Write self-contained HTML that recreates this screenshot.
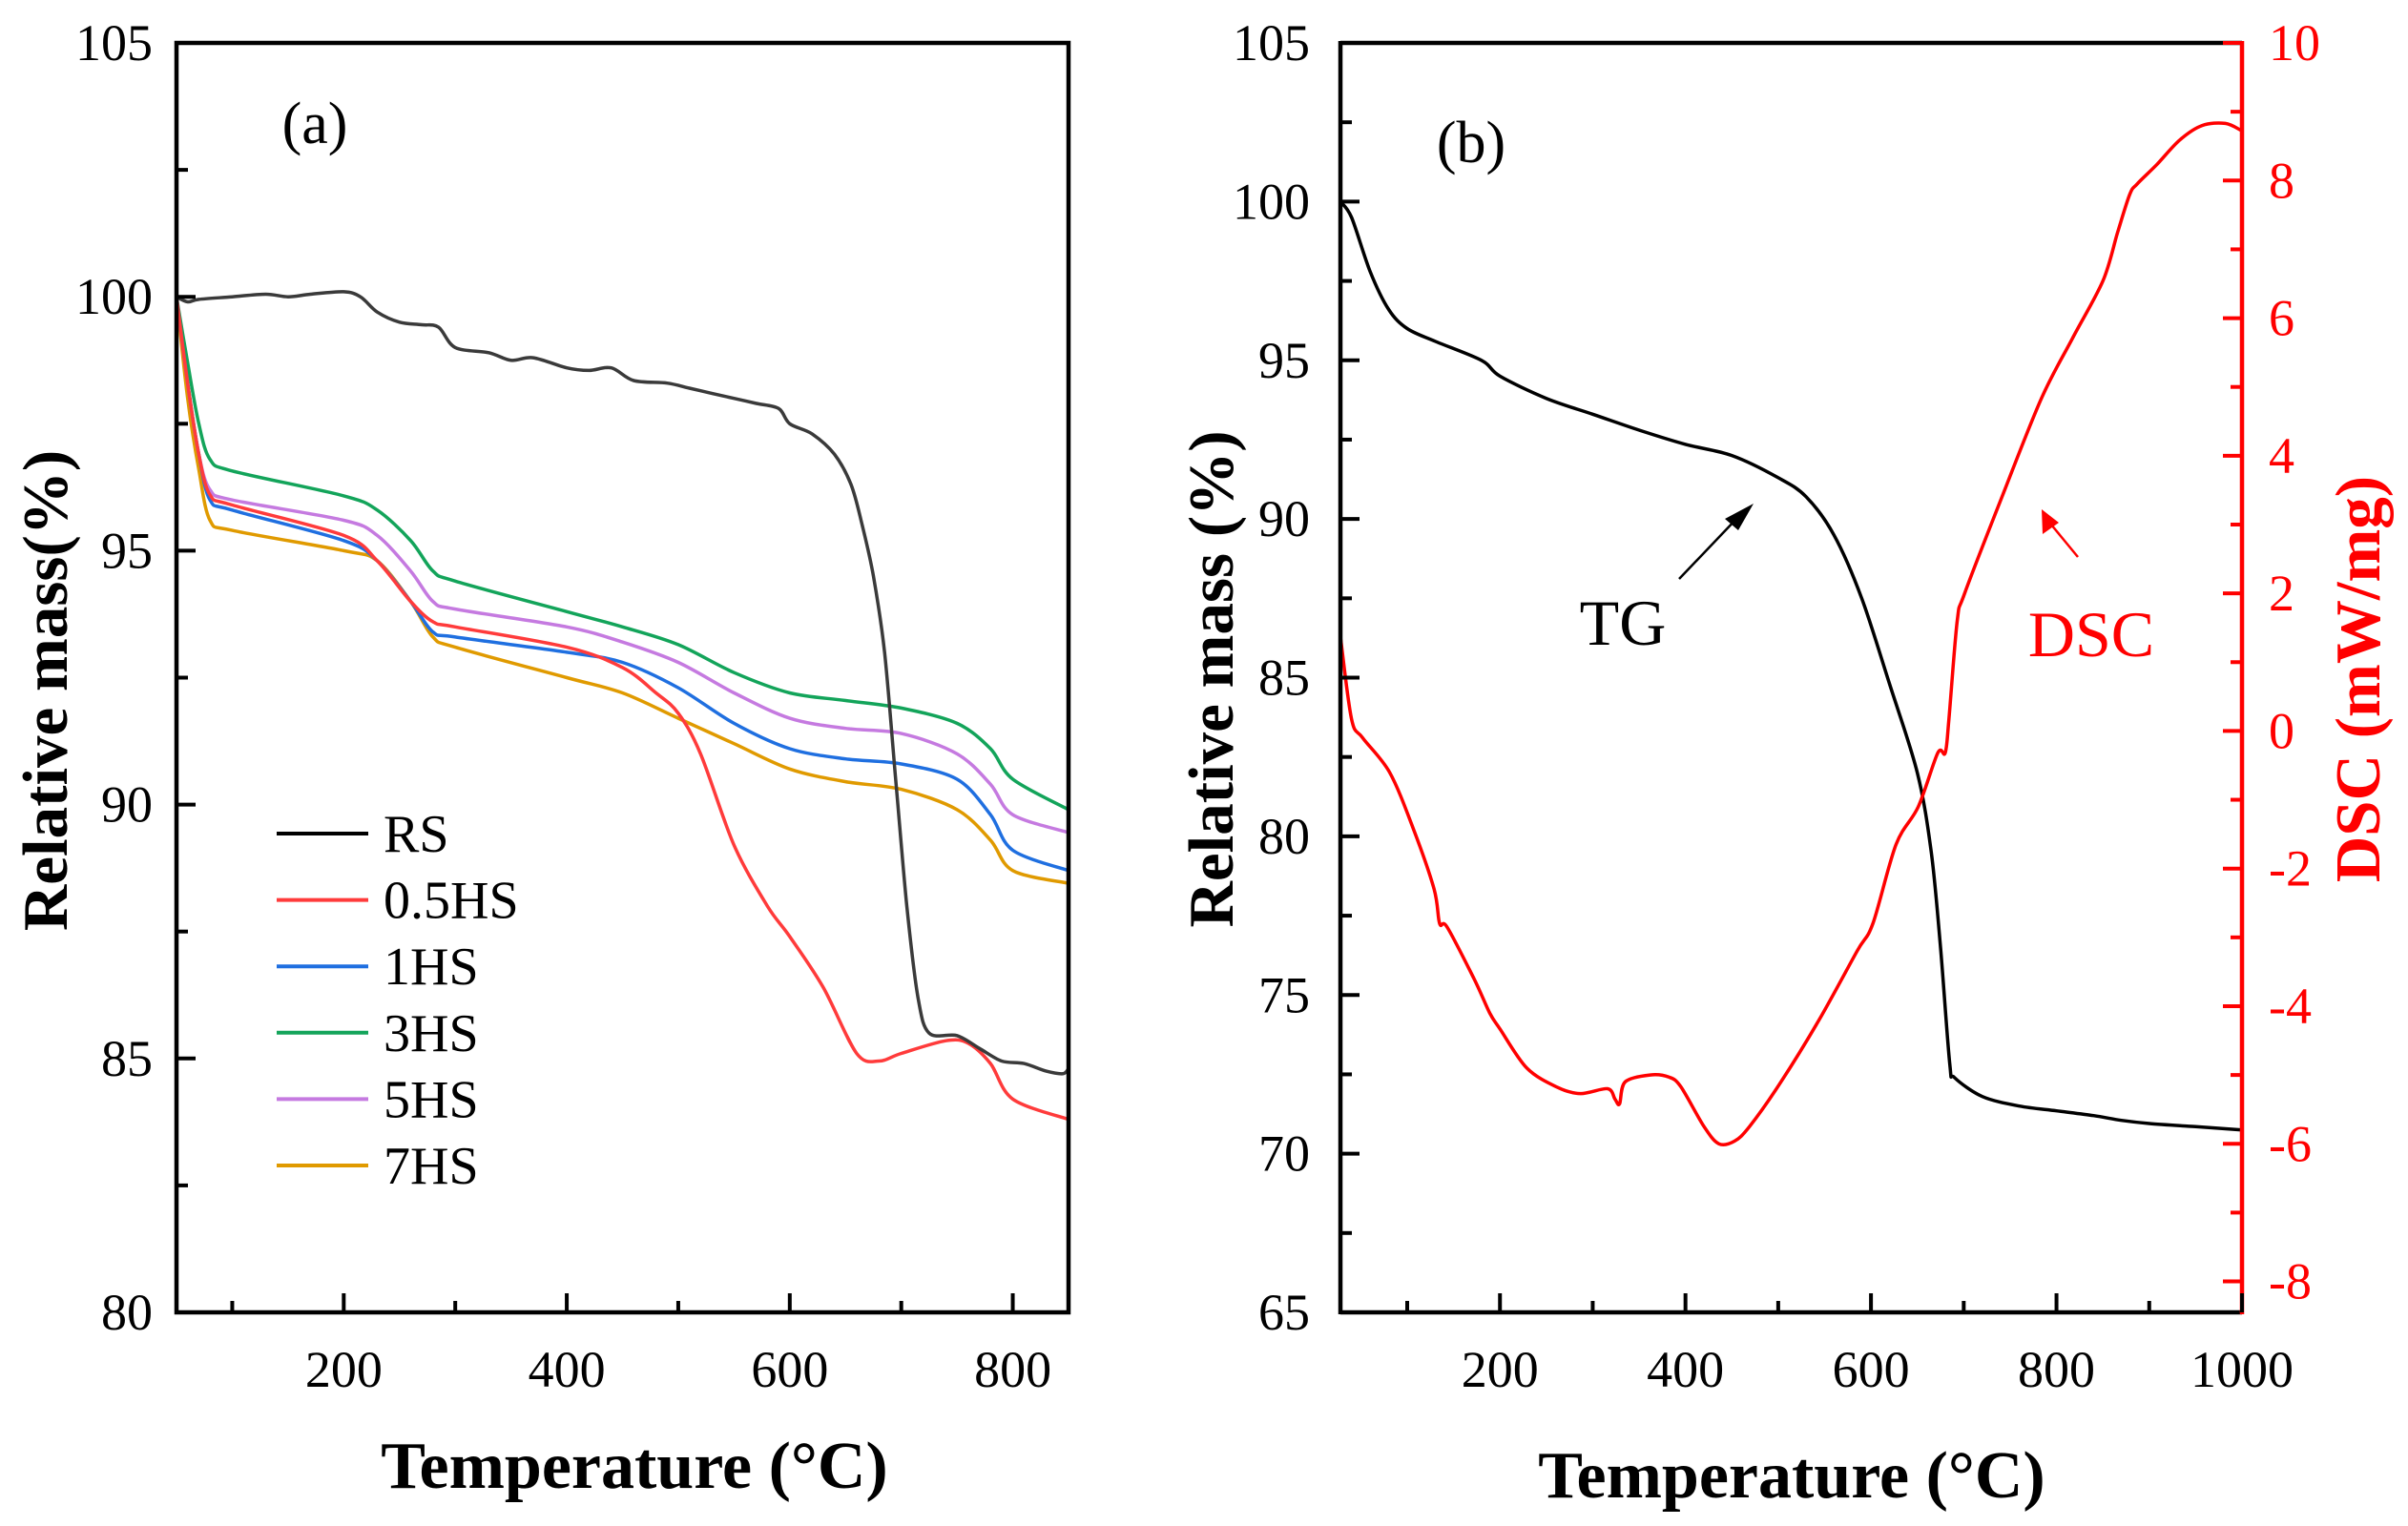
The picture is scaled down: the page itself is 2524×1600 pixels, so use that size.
<!DOCTYPE html>
<html><head><meta charset="utf-8"><style>
html,body{margin:0;padding:0;background:#fff;}
svg{display:block;}
svg text{font-family:"Liberation Serif","Times New Roman",serif;}
</style></head><body>
<svg id="chart" width="2524" height="1600" viewBox="0 0 2524 1600" xmlns="http://www.w3.org/2000/svg" font-family="Liberation Serif, serif"></svg>
<script>
// ---------- Panel (a) data ----------
const aTempsRS = [50,60,70,100,130,150,170,200,215,230,250,270,285,300,330,350,370,400,420,440,460,490,510,530,550,570,590,600,620,640,655,665,675,685,695,705,715,725,750,770,790,810,830,845,850];
const aRS = [100,99.9,99.95,100,100.05,100,100.05,100.1,100.0,99.7,99.5,99.45,99.4,99.0,98.9,98.75,98.8,98.6,98.55,98.6,98.35,98.3,98.2,98.1,98.0,97.9,97.8,97.5,97.3,96.9,96.3,95.5,94.5,93,90.5,88,86.2,85.5,85.45,85.2,84.95,84.9,84.75,84.7,84.8];
const aTemps = [50,60,70,80,100,200,230,260,280,300,400,450,500,550,600,650,700,750,780,800,850];
const a3HS = [100,98.7,97.5,96.8,96.57,96.08,95.8,95.2,94.6,94.4,93.8,93.5,93.15,92.6,92.2,92.05,91.9,91.6,91.1,90.5,89.9];
const a5HS = [100,98.3,96.9,96.2,96.0,95.6,95.3,94.6,94.0,93.85,93.5,93.2,92.8,92.2,91.7,91.5,91.4,91.0,90.4,89.8,89.45];
const a1HS = [100,98.3,96.9,96.0,95.8,95.2,94.8,94.0,93.4,93.3,93.0,92.8,92.3,91.6,91.1,90.9,90.8,90.5,89.8,89.1,88.7];
const a7HS = [100,98.0,96.6,95.6,95.4,95.0,94.8,94.0,93.3,93.1,92.5,92.2,91.7,91.2,90.7,90.45,90.3,89.9,89.3,88.7,88.45];
const aTempsHalf = [50,60,70,80,100,200,230,260,280,300,400,450,480,500,520,550,580,600,630,660,680,700,740,760,780,800,850];
const aHalfHS = [100,98.3,96.9,96.1,95.9,95.3,94.8,94.0,93.6,93.5,93.1,92.7,92.2,91.8,91.0,89.2,88.0,87.4,86.4,85.1,84.95,85.1,85.35,85.3,84.9,84.2,83.8];
const aXTicks = [200,400,600,800];
const aYTicks = [80,85,90,95,100,105];
const legendLabels = ["RS","0.5HS","1HS","3HS","5HS","7HS"];
// ---------- Panel (b) data ----------
const bTempsTG = [28,40,60,80,100,130,180,200,250,300,350,400,450,500,530,560,590,620,650,665,675,685,690,720,760,800,840,870,900,950,1000];
const bTG = [100,99.5,97.8,96.6,96.0,95.6,95.0,94.5,93.8,93.3,92.8,92.35,92.0,91.3,90.7,89.5,87.5,84.8,82.0,79.5,76.5,72.8,72.4,71.8,71.5,71.35,71.2,71.05,70.95,70.85,70.75];
const bTempsDSC = [28,40,52,81,106,129,135,143,172,189,200,229,262,287,316,324,329,335,362,382,395,420,436,453,469,502,544,585,602,627,651,672,680,684,693,701,742,784,817,850,866,879,887,908,933,957,982,999];
const bDSC = [1.37,0.17,-0.1,-0.6,-1.4,-2.3,-2.8,-2.85,-3.6,-4.1,-4.33,-4.9,-5.18,-5.27,-5.2,-5.35,-5.42,-5.1,-5.0,-5.03,-5.17,-5.75,-6.0,-5.96,-5.75,-5.12,-4.2,-3.2,-2.8,-1.65,-1.1,-0.32,-0.32,0.17,1.6,2.0,3.43,4.84,5.7,6.54,7.25,7.8,7.95,8.23,8.59,8.8,8.83,8.73];
const bXTicks = [200,400,600,800,1000];
const bYTicks = [65,70,75,80,85,90,95,100,105];
const bRTicks = [-8,-6,-4,-2,0,2,4,6,8,10];

const NS = "http://www.w3.org/2000/svg";
const svg = document.getElementById("chart");
const FF = '"Liberation Serif", serif';
function mk(tag, attrs, parent){
  const e = document.createElementNS(NS, tag);
  for (const k in attrs) e.setAttribute(k, attrs[k]);
  if (tag === "text") e.setAttribute("font-family", FF);
  (parent||svg).appendChild(e);
  return e;
}
function lin(d0,d1,r0,r1){ return v => r0 + (v-d0)/(d1-d0)*(r1-r0); }
function pathFrom(xs, ys, fx, fy){
  const P = xs.map((x,i)=>[fx(x), fy(ys[i])]);
  let d = "M"+P[0][0].toFixed(1)+","+P[0][1].toFixed(1);
  for(let i=0;i<P.length-1;i++){
    const p0=P[Math.max(i-1,0)], p1=P[i], p2=P[i+1], p3=P[Math.min(i+2,P.length-1)];
    const k=0.16;
    const c1=[p1[0]+(p2[0]-p0[0])*k, p1[1]+(p2[1]-p0[1])*k];
    const c2=[p2[0]-(p3[0]-p1[0])*k, p2[1]-(p3[1]-p1[1])*k];
    d += "C"+c1[0].toFixed(1)+","+c1[1].toFixed(1)+" "+c2[0].toFixed(1)+","+c2[1].toFixed(1)+" "+p2[0].toFixed(1)+","+p2[1].toFixed(1);
  }
  return d;
}
const TICK = 54, TITLE = 70;

// ---------- Panel A ----------
const ax = lin(50,850,185,1120), ay = lin(80,105,1376,45);
const gA = mk("g",{});


const seriesA = [
  {n:"RS", x:aTempsRS, y:aRS, c:"#3a3a3a"},
  {n:"0.5HS", x:aTempsHalf, y:aHalfHS, c:"#ff3b3b"},
  {n:"1HS", x:aTemps, y:a1HS, c:"#1f6fe0"},
  {n:"3HS", x:aTemps, y:a3HS, c:"#13a45a"},
  {n:"5HS", x:aTemps, y:a5HS, c:"#c57ae0"},
  {n:"7HS", x:aTemps, y:a7HS, c:"#e09a00"}
];
const legColors = ["#000","#ff3b3b","#1f6fe0","#13a45a","#c57ae0","#e09a00"];
seriesA.slice().reverse().forEach(s=>{
  const p = mk("path",{d:pathFrom(s.x,s.y,ax,ay),fill:"none",stroke:s.c,"stroke-width":3.5,"stroke-linejoin":"round"},gA);
  
  
});
const fa = mk("rect",{x:185,y:45,width:935,height:1331,fill:"none",stroke:"#000","stroke-width":4.5},gA);


for(let t=100;t<=800;t+=100){
  const major = aXTicks.includes(t);
  mk("line",{x1:ax(t),x2:ax(t),y1:1376,y2:1376-(major?20:12),stroke:"#000","stroke-width":4},gA);
}
aXTicks.forEach(t=>{
  const e = mk("text",{x:ax(t),y:1454,"font-size":TICK,"text-anchor":"middle"},gA);
  e.textContent=t;
  
  
});
for(let v=80;v<=105;v+=2.5){
  const major = aYTicks.includes(v);
  mk("line",{x1:185,x2:185+(major?20:12),y1:ay(v),y2:ay(v),stroke:"#000","stroke-width":4},gA);
}
aYTicks.forEach(v=>{
  const e = mk("text",{x:160,y:ay(v)+18,"font-size":TICK,"text-anchor":"end"},gA);
  e.textContent=v;
  
  
});
legendLabels.forEach((l,i)=>{
  const y = 874 + i*69.6;
  const ln = mk("line",{x1:290,x2:386,y1:y,y2:y,stroke:legColors[i],"stroke-width":4},gA);
  
  
  const t = mk("text",{x:402,y:y+19,"font-size":56},gA);
  t.textContent=l;
  
  
});
let t1 = mk("text",{x:330,y:150,"font-size":62,"text-anchor":"middle"},gA);
t1.textContent="(a)";


let t2 = mk("text",{x:665,y:1560,"font-size":TITLE,"font-weight":"bold","text-anchor":"middle"},gA);
t2.textContent="Temperature (°C)";


let t3 = mk("text",{x:0,y:0,"font-size":67,"font-weight":"bold","text-anchor":"middle",transform:"translate(70,724) rotate(-90)"},gA);
t3.textContent="Relative mass(%)";



// ---------- Panel B ----------
const bx = lin(28,1000,1405,2350), by = lin(65,105,1376,45), br = lin(-8.45,10,1376,45);
const gB = mk("g",{});


const pTG = mk("path",{d:pathFrom(bTempsTG,bTG,bx,by),fill:"none",stroke:"#000","stroke-width":3.5,"stroke-linejoin":"round"},gB);


const pDSC = mk("path",{d:pathFrom(bTempsDSC,bDSC,bx,br),fill:"none",stroke:"#ff0000","stroke-width":3.5,"stroke-linejoin":"round"},gB);


mk("line",{x1:1405,x2:2350,y1:45,y2:45,stroke:"#000","stroke-width":4.5},gB);
mk("line",{x1:1405,x2:2350,y1:1376,y2:1376,stroke:"#000","stroke-width":4.5},gB);
const lax = mk("line",{x1:1405,x2:1405,y1:43,y2:1378,stroke:"#000","stroke-width":4.5},gB);


const rax = mk("line",{x1:2350,x2:2350,y1:43,y2:1378,stroke:"#ff0000","stroke-width":4.5},gB);


for(let t=100;t<=1000;t+=100){
  const major = bXTicks.includes(t);
  mk("line",{x1:bx(t),x2:bx(t),y1:1376,y2:1376-(major?20:12),stroke:"#000","stroke-width":4},gB);
}
bXTicks.forEach(t=>{
  const e = mk("text",{x:bx(t),y:1454,"font-size":TICK,"text-anchor":"middle"},gB);
  e.textContent=t;
  
  
});
for(let v=65;v<=105;v+=2.5){
  const major = bYTicks.includes(v);
  mk("line",{x1:1405,x2:1405+(major?20:12),y1:by(v),y2:by(v),stroke:"#000","stroke-width":4},gB);
}
bYTicks.forEach(v=>{
  const e = mk("text",{x:1373,y:by(v)+18,"font-size":TICK,"text-anchor":"end"},gB);
  e.textContent=v;
  
  
});
for(let v=-8;v<=10;v+=1){
  const major = bRTicks.includes(v);
  mk("line",{x1:2350,x2:2350-(major?20:12),y1:br(v),y2:br(v),stroke:"#ff0000","stroke-width":4},gB);
}
bRTicks.forEach(v=>{
  const e = mk("text",{x:2378,y:br(v)+18,"font-size":TICK,fill:"#ff0000"},gB);
  e.textContent=v;
  
  
});
let b1 = mk("text",{x:1542,y:170,"font-size":62,"text-anchor":"middle"},gB);
b1.textContent="(b)";


let b2 = mk("text",{x:1701,y:676,"font-size":68,"text-anchor":"middle"},gB);
b2.textContent="TG";


let b3 = mk("text",{x:2192,y:688,"font-size":68,"text-anchor":"middle",fill:"#ff0000"},gB);
b3.textContent="DSC";


const a1 = mk("line",{x1:1760,y1:607,x2:1822,y2:542,stroke:"#000","stroke-width":2.5},gB);


mk("polygon",{points:"1838,528 1808,544 1822,556",fill:"#000"},gB);
const a2 = mk("line",{x1:2178,y1:584,x2:2150,y2:550,stroke:"#ff0000","stroke-width":2.5},gB);


mk("polygon",{points:"2140,534 2141,560 2158,548",fill:"#ff0000"},gB);
let b4 = mk("text",{x:1878,y:1570,"font-size":TITLE,"font-weight":"bold","text-anchor":"middle"},gB);
b4.textContent="Temperature (°C)";


let b5 = mk("text",{x:0,y:0,"font-size":67,"font-weight":"bold","text-anchor":"middle",transform:"translate(1292,712) rotate(-90)"},gB);
b5.textContent="Relative mass (%)";


let b6 = mk("text",{x:0,y:0,"font-size":67,"font-weight":"bold","text-anchor":"middle",fill:"#ff0000",transform:"translate(2494,712) rotate(-90)"},gB);
b6.textContent="DSC (mW/mg)";


</script>
</body></html>
